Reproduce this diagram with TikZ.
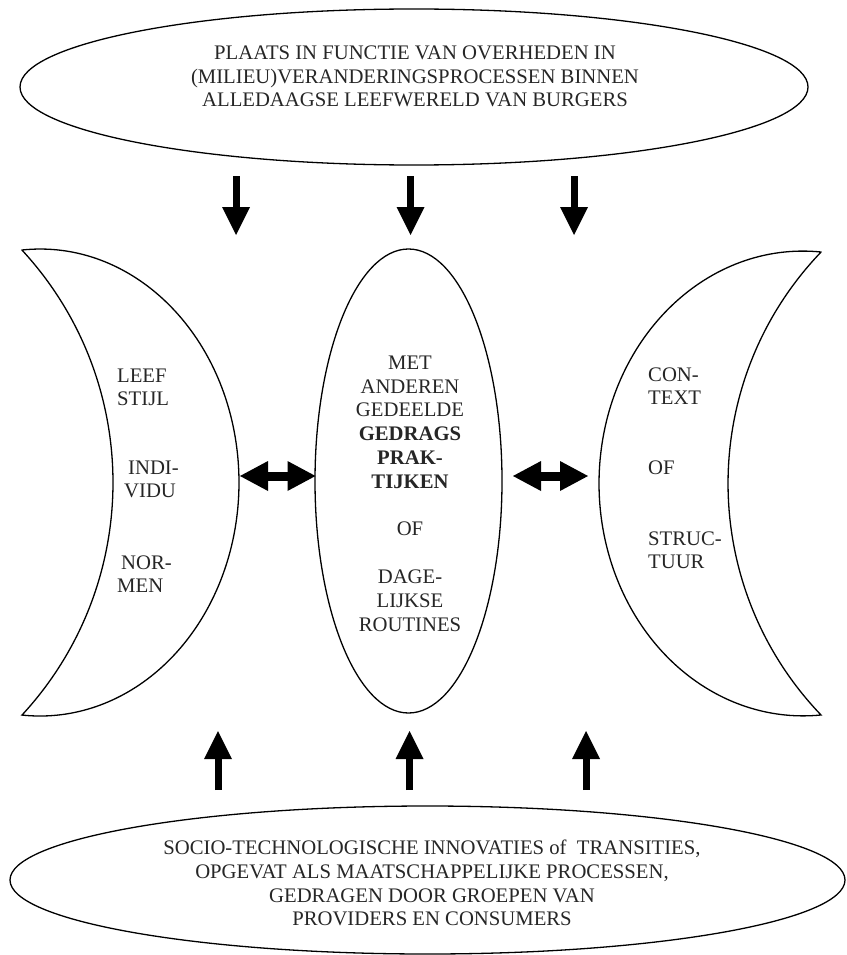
\documentclass[tikz,border=0pt]{standalone}
\usepackage{fontspec}
\setmainfont{Liberation Serif}
\usetikzlibrary{arrows.meta,shapes.geometric}
\begin{document}
\begin{tikzpicture}[x=1pt,y=1pt,
  outline/.style={draw=black, line width=1.3pt, line join=miter},
  oval/.style={ellipse, draw=black, line width=1.3pt, inner sep=0pt, outer sep=0pt},
  txt/.style={font=\fontsize{20.7}{23.8}\selectfont, align=center, inner sep=0pt, text=black!85},
  ltxt/.style={font=\fontsize{20.7}{23.8}\selectfont, inner sep=0pt, text=black!85, anchor=base west},
  bigarrow/.style={line width=7pt, -{Triangle[length=28pt,width=28pt,line width=0pt]}},
  dblarrow/.style={line width=9pt, {Triangle[length=28pt,width=30pt,line width=0pt]}-{Triangle[length=28pt,width=30pt,line width=0pt]}}]
\useasboundingbox (0,0) rectangle (846,-955);

% top ellipse
\node[oval, minimum width=788pt, minimum height=156pt] (top) at (414,-87) {};
\node[txt] (toptext) at (415,-76.5) {PLAATS IN FUNCTIE VAN OVERHEDEN IN\\(MILIEU)VERANDERINGSPROCESSEN BINNEN\\ALLEDAAGSE LEEFWERELD VAN BURGERS};

% bottom ellipse
\node[oval, minimum width=835pt, minimum height=148pt] (bottom) at (427.5,-880) {};
\node[txt] (bottomtext) at (432,-883) {SOCIO-TECHNOLOGISCHE INNOVATIES of~~TRANSITIES,\\OPGEVAT ALS MAATSCHAPPELIJKE PROCESSEN,\\GEDRAGEN DOOR GROEPEN VAN\\PROVIDERS EN CONSUMERS};

% middle ellipse
\node[oval, minimum width=187pt, minimum height=464pt] (mid) at (408.5,-481) {};
\node[txt] (midtext) at (410,-493.5) {MET\\ANDEREN\\GEDEELDE\\\textbf{GEDRAGS}\\\textbf{PRAK-}\\\textbf{TIJKEN}\\[23.8pt]OF\\[23.8pt]DAGE-\\LIJKSE\\ROUTINES};

% left crescent
\draw[outline] (22,-250) arc[start angle=95.19, end angle=-95.19, x radius=199, y radius=233.5]
  arc[start angle=-42.75, end angle=42.75, radius=342.5] -- cycle;
\node[ltxt] (l1) at (117,-382) {LEEF};
\node[ltxt] (l2) at (117,-405) {STIJL};
\node[ltxt] (l3) at (128,-474) {INDI-};
\node[ltxt] (l4) at (124,-497) {VIDU};
\node[ltxt] (l5) at (121,-569) {NOR-};
\node[ltxt] (l6) at (117,-592) {MEN};

% right crescent
\draw[outline] (821,-252) arc[start angle=84.94, end angle=275.06, x radius=204, y radius=232.4]
  arc[start angle=223.77, end angle=136.23, radius=334.6] -- cycle;
\node[ltxt] (r1) at (648,-381) {CON-};
\node[ltxt] (r2) at (648,-404) {TEXT};
\node[ltxt] (r3) at (648,-474) {OF};
\node[ltxt] (r4) at (648,-545) {STRUC-};
\node[ltxt] (r5) at (648,-568) {TUUR};

% down arrows
\coordinate (d1s) at (236,-176); \coordinate (d1e) at (236,-235);
\coordinate (d2s) at (410.5,-176); \coordinate (d2e) at (410.5,-235);
\coordinate (d3s) at (574,-176); \coordinate (d3e) at (574,-235);
\draw[bigarrow] (d1s) -- (d1e);
\draw[bigarrow] (d2s) -- (d2e);
\draw[bigarrow] (d3s) -- (d3e);

% up arrows
\coordinate (u1s) at (218,-790); \coordinate (u1e) at (218,-731);
\coordinate (u2s) at (409.5,-790); \coordinate (u2e) at (409.5,-731);
\coordinate (u3s) at (586,-790); \coordinate (u3e) at (586,-731);
\draw[bigarrow] (u1s) -- (u1e);
\draw[bigarrow] (u2s) -- (u2e);
\draw[bigarrow] (u3s) -- (u3e);

% double arrows
\coordinate (a1s) at (240,-476); \coordinate (a1e) at (315.5,-476);
\coordinate (a2s) at (513,-476); \coordinate (a2e) at (588,-476);
\draw[dblarrow] (a1s) -- (a1e);
\draw[dblarrow] (a2s) -- (a2e);
\end{tikzpicture}
\end{document}
